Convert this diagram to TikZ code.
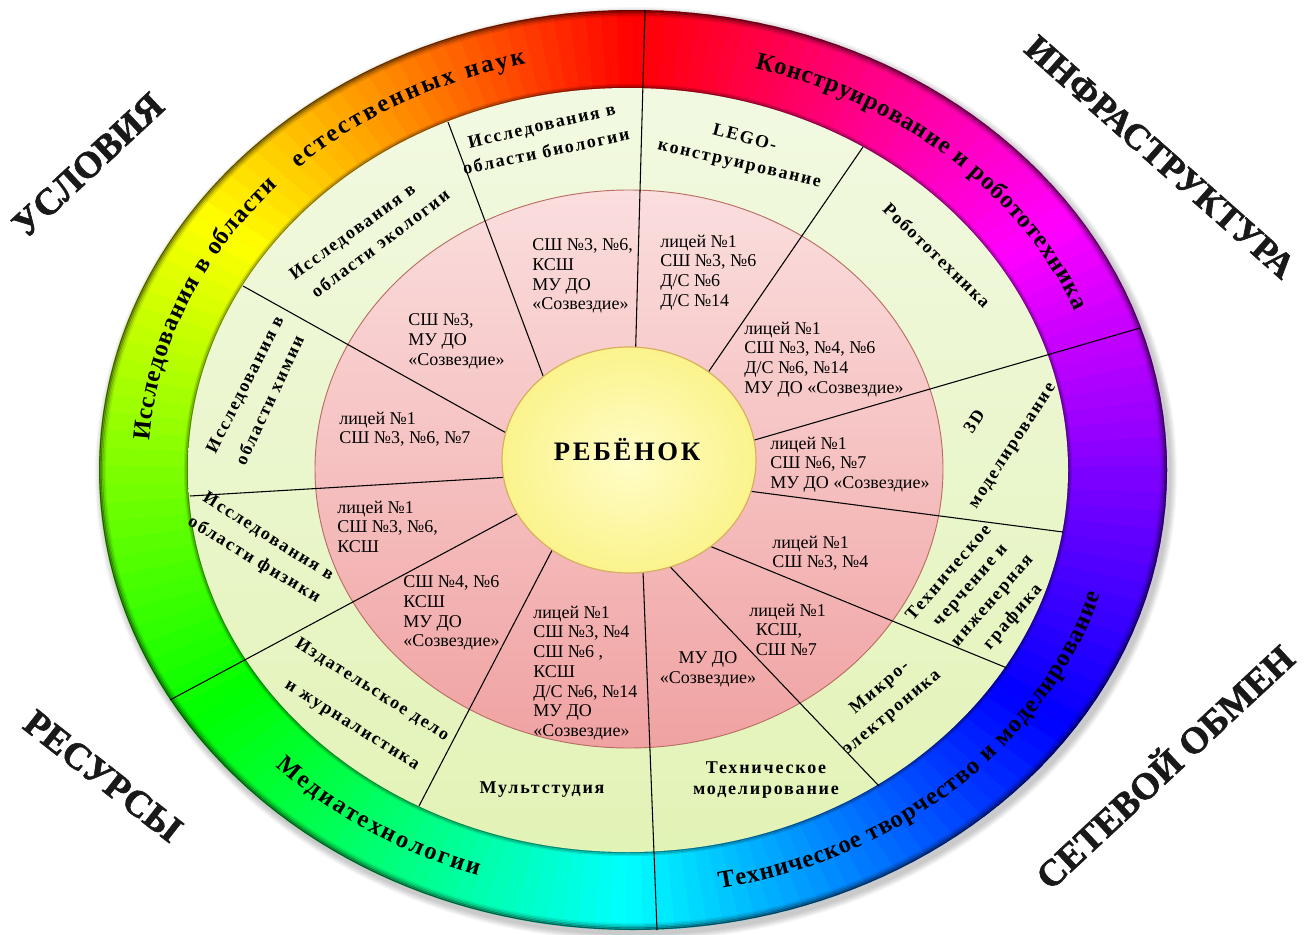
\documentclass[tikz,border=0pt]{standalone}
\usepackage{fontspec}
\setmainfont{Liberation Serif}
\newfontfamily\spaced[LetterSpace=10]{Liberation Serif}
\newfontfamily\cornerfont[BoldFeatures={FakeBold=1.6}]{Liberation Serif}
\usetikzlibrary{decorations.text}
\newcommand\outerfont{\bfseries\fontsize{18.5}{21}\selectfont}

\definecolor{lgtop}{RGB}{242,249,226}
\definecolor{lgbot}{RGB}{226,243,182}
\definecolor{pktop}{RGB}{251,222,222}
\definecolor{pkbot}{RGB}{240,162,162}
\definecolor{pkedge}{RGB}{185,110,100}
\definecolor{yelin}{RGB}{255,253,200}
\definecolor{yelout}{RGB}{251,243,140}
\definecolor{yeledge}{RGB}{215,175,95}

\tikzset{
 pinktext/.style={anchor=north west, align=left, inner sep=0pt, font=\fontsize{13.5}{14.8}\selectfont},
 greenlab/.style={inner sep=0pt, font=\spaced\bfseries\fontsize{13.5}{19}\selectfont},
 corner/.style={inner sep=0pt, text=black!90, font=\cornerfont\bfseries\fontsize{28}{32}\selectfont},
 spoke/.style={line width=0.8pt, draw=black},
 ringtext/.style={decorate, decoration={text along path, text align=fit to path, text={|\outerfont|#1}}},
}

\begin{document}
\begin{tikzpicture}[x=0.75pt,y=0.75pt]
\useasboundingbox (0,0) rectangle (1310,-935);
\fill[white] (0,0) rectangle (1310,-935);

% soft shadow round the wheel
\foreach \k in {1,...,7}{
  \pgfmathsetmacro\rxa{534+\k}\pgfmathsetmacro\rya{460+\k}
  \fill[black,opacity=0.03] (636,-474) ellipse [x radius=\rxa, y radius=\rya];
}

% colour wheel ring
\begin{scope}
\clip (633,-470) ellipse [x radius=534, y radius=460];
\foreach \t in {0,2,...,358}{
  \pgfmathsetmacro\hh{mod(\t+271,360)}
  \definecolor{hc}{Hsb}{\hh,1,1}
  \fill[hc] (630,-470) -- +(\t-0.4:700) -- +(\t+2.4:700) -- cycle;
}
\foreach \k/\o in {0/0.5,1.5/0.35,3/0.22,4.5/0.12,6/0.06}{
  \pgfmathsetmacro\rxa{534-\k}\pgfmathsetmacro\rya{460-\k}
  \draw[black,opacity=\o,line width=1.7pt] (633,-470) ellipse [x radius=\rxa, y radius=\rya];
}
\foreach \k/\o in {0/0.35,1.5/0.2,3/0.1}{
  \pgfmathsetmacro\rxa{440+\k}\pgfmathsetmacro\rya{382+\k}
  \draw[black,opacity=\o,line width=1.7pt] (628,-470) ellipse [x radius=\rxa, y radius=\rya];
}
\end{scope}

% light green ring and pink ring
\shade[top color=lgtop, bottom color=lgbot] (628,-470) ellipse [x radius=440, y radius=382];
\shadedraw[top color=pktop, bottom color=pkbot, draw=pkedge, line width=0.7pt] (629,-469) ellipse [x radius=314, y radius=279];

% spokes
\coordinate (o1) at (645,-10);   \coordinate (i1) at (635,-372);
\coordinate (o2) at (863,-147);  \coordinate (i2) at (696,-390);
\coordinate (o3) at (1140,-328); \coordinate (i3) at (727,-448);
\coordinate (o4) at (1063,-532); \coordinate (i4) at (733,-489);
\coordinate (o5) at (1007,-668); \coordinate (i5) at (690,-538);
\coordinate (o6) at (879,-786);  \coordinate (i6) at (657,-553);
\coordinate (o7) at (657,-930);  \coordinate (i7) at (642,-545);
\coordinate (o8) at (419,-806);  \coordinate (i8) at (560,-535);
\coordinate (o9) at (170,-700);  \coordinate (i9) at (543,-500);
\coordinate (o10) at (190,-496); \coordinate (i10) at (527,-476);
\coordinate (o11) at (243,-286); \coordinate (i11) at (526,-444);
\coordinate (o12) at (448,-122); \coordinate (i12) at (551,-397);
\foreach \n in {1,...,12}{\draw[spoke] (o\n) -- (i\n);}

% centre
\shadedraw[inner color=yelin, outer color=yelout, draw=yeledge, line width=0.9pt] (629,-460) ellipse [x radius=127, y radius=113];
\node[font=\spaced\bfseries\fontsize{20}{24}\selectfont, inner sep=0pt] (child) at (627,-450) {РЕБЁНОК};

% outer ring texts
\begin{scope}[shift={(630,-470)}]
\path[ringtext={Исследования в области}] (176:482 and 416) arc[start angle=176, end angle=137, x radius=482, y radius=416];
\path[ringtext={естественных наук}] (133.5:482 and 416) arc[start angle=133.5, end angle=102.5, x radius=482, y radius=416];
\path[ringtext={Конструирование и робототехника}] (75:482 and 416) arc[start angle=75, end angle=22.5, x radius=482, y radius=416];
\path[ringtext={Техническое творчество и моделирование}] (-79.5:492 and 426) arc[start angle=-79.5, end angle=-17, x radius=492, y radius=426];
\path[ringtext={Медиатехнологии}] (224:492 and 426) arc[start angle=224, end angle=252, x radius=492, y radius=426];
\end{scope}

% light green ring labels
\node[greenlab, rotate=-15] (g1a) at (745,-137) {LEGO-};
\node[greenlab, rotate=-13] (g1b) at (739,-166) {конструирование};
\node[greenlab, rotate=-44] (g2) at (937,-255) {Робототехника};
\node[greenlab, rotate=57] (g3a) at (974,-421) {3D};
\node[greenlab, rotate=57] (g3b) at (1014,-447) {моделирование};
\node[greenlab, rotate=49] (g4a) at (948,-572) {Техническое};
\node[greenlab, rotate=49] (g4b) at (972,-587) {черчение и};
\node[greenlab, rotate=49] (g4c) at (994,-602) {инженерная};
\node[greenlab, rotate=49] (g4d) at (1013,-617) {графика};
\node[greenlab, rotate=40] (g5a) at (880,-688) {Микро-};
\node[greenlab, rotate=40] (g5b) at (893,-714) {электроника};
\node[greenlab] (g6a) at (766,-768) {Техническое};
\node[greenlab] (g6b) at (766,-792) {моделирование};
\node[greenlab] (g7) at (542,-790) {Мультстудия};
\node[greenlab, rotate=-32] (g8a) at (372,-690) {Издательское дело};
\node[greenlab, rotate=-32] (g8b) at (351,-727) {и журналистика};
\node[greenlab, rotate=-32] (g9a) at (268,-537) {Исследования в};
\node[greenlab, rotate=-31] (g9b) at (254,-560) {области физики};
\node[greenlab, rotate=63] (g10a) at (246,-385) {Исследования в};
\node[greenlab, rotate=65] (g10b) at (269,-400) {области химии};
\node[greenlab, rotate=36] (g11a) at (353,-233) {Исследования в};
\node[greenlab, rotate=37] (g11b) at (380,-243) {области экологии};
\node[greenlab, rotate=13] (g12a) at (542,-127) {Исследования в};
\node[greenlab, rotate=12] (g12b) at (546,-151) {области биологии};

% pink ring labels
\node[pinktext] (p1) at (660,-234.5) {лицей №1\\СШ №3, №6\\Д/С №6\\Д/С №14};
\node[pinktext] (p2) at (744,-321.5) {лицей №1\\СШ №3, №4, №6\\Д/С №6, №14\\МУ ДО «Созвездие»};
\node[pinktext] (p3) at (770,-436.5) {лицей №1\\СШ №6, №7\\МУ ДО «Созвездие»};
\node[pinktext] (p4) at (772,-535.5) {лицей №1\\СШ №3, №4};
\node[pinktext] (p5) at (749,-603.5) {лицей №1\\\hspace*{5pt}КСШ,\\\hspace*{5pt}СШ №7};
\node[pinktext, anchor=north, align=center] (p6) at (708,-651.5) {МУ ДО\\«Созвездие»};
\node[pinktext] (p7) at (533,-605.5) {лицей №1\\СШ №3, №4\\СШ №6 ,\\КСШ\\Д/С №6, №14\\МУ ДО\\«Созвездие»};
\node[pinktext] (p8) at (403,-575.5) {СШ №4, №6\\КСШ\\МУ ДО\\«Созвездие»};
\node[pinktext] (p9) at (337,-500.5) {лицей №1\\СШ №3, №6,\\КСШ};
\node[pinktext] (p10) at (339,-411.5) {лицей №1\\СШ №3, №6, №7};
\node[pinktext] (p11) at (408,-313.5) {СШ №3,\\МУ ДО\\«Созвездие»};
\node[pinktext] (p12) at (532,-238.5) {СШ №3, №6,\\КСШ\\МУ ДО\\«Созвездие»};

% corner labels
\node[corner, rotate=43] (usl) at (88,-165) {УСЛОВИЯ};
\node[corner, rotate=-41.5, font=\cornerfont\bfseries\fontsize{27}{30}\selectfont] (inf) at (1160,-157) {ИНФРАСТРУКТУРА};
\node[corner, rotate=-38] (res) at (103,-776) {РЕСУРСЫ};
\node[corner, rotate=43] (set) at (1163,-765) {СЕТЕВОЙ ОБМЕН};
\end{tikzpicture}
\end{document}
